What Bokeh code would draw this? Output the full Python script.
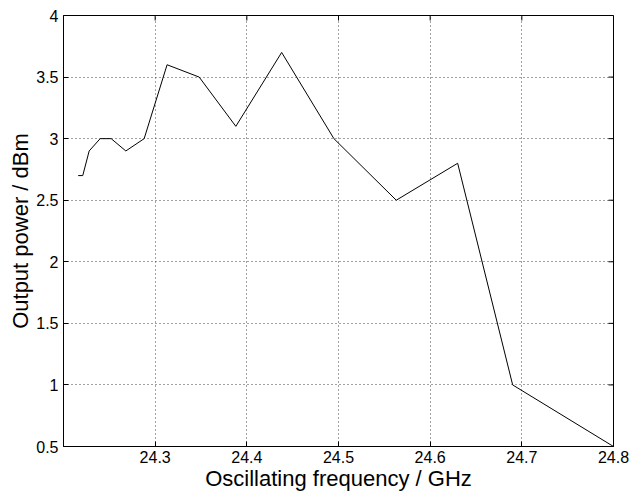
import math
from bokeh.plotting import figure
from bokeh.models import FixedTicker, NumeralTickFormatter, Range1d
from bokeh.embed import file_html
from bokeh.resources import INLINE

freq_ghz = [24.216, 24.221, 24.228, 24.240, 24.252, 24.268, 24.288, 24.313,
            24.348, 24.388, 24.438, 24.495, 24.563, 24.630, 24.690, 24.800]
power_dbm = [2.7, 2.7, 2.9, 3.0, 3.0, 2.9, 3.0, 3.6,
             3.5, 3.1, 3.7, 3.0, 2.5, 2.8, 1.0, 0.5]
x_ticks = [24.3, 24.4, 24.5, 24.6, 24.7, 24.8]
y_ticks = [0.5, 1.0, 1.5, 2.0, 2.5, 3.0, 3.5, 4.0]
x_min, x_max = 24.2, 24.8
y_min, y_max = 0.5, 4.0

FONT = "Liberation Sans"

p = figure(width=632, height=493, output_backend="svg", toolbar_location=None,
           x_range=Range1d(x_min, x_max), y_range=Range1d(y_min, y_max),
           min_border_top=15, min_border_right=19, min_border_left=63, min_border_bottom=45)
p.background_fill_color = "white"
p.border_fill_color = "white"
p.outline_line_color = "black"
p.outline_line_width = 1

for g in (p.xgrid[0], p.ygrid[0]):
    g.grid_line_color = "#444444"
    g.grid_line_dash = "1 3"
    g.grid_line_width = 1
p.xgrid[0].ticker = FixedTicker(ticks=x_ticks[:-1])
p.ygrid[0].ticker = FixedTicker(ticks=y_ticks[1:-1])

p.line(freq_ghz, power_dbm, line_color="black", line_width=1)

# inward ticks on the right and top edges (box-style axes)
p.ray(x=[x_max] * len(y_ticks), y=y_ticks, length=5, length_units="screen",
      angle=math.pi, line_color="black", line_width=1)
p.ray(x=x_ticks, y=[y_max] * len(x_ticks), length=5, length_units="screen",
      angle=-math.pi / 2, line_color="black", line_width=1)

for ax in (p.xaxis[0], p.yaxis[0]):
    ax.major_tick_in = 5
    ax.major_tick_out = 0
    ax.minor_tick_line_color = None
    ax.axis_line_color = "black"
    ax.major_tick_line_color = "black"
    ax.major_label_text_font = FONT
    ax.major_label_text_font_size = "16px"
    ax.major_label_text_color = "black"
    ax.axis_label_text_font = FONT
    ax.axis_label_text_font_size = "22px"
    ax.axis_label_text_font_style = "normal"
    ax.axis_label_text_color = "black"
    ax.axis_label_standoff = 0

p.xaxis[0].major_label_standoff = 4
p.yaxis[0].major_label_standoff = 5
p.xaxis[0].ticker = FixedTicker(ticks=x_ticks)
p.xaxis[0].formatter = NumeralTickFormatter(format="0.0")
p.xaxis[0].axis_label = "Oscillating frequency / GHz"
p.yaxis[0].ticker = FixedTicker(ticks=y_ticks)
p.yaxis[0].formatter = NumeralTickFormatter(format="0.[0]")
p.yaxis[0].axis_label = "Output power / dBm"

open("out.html", "w").write(file_html(p, INLINE))
